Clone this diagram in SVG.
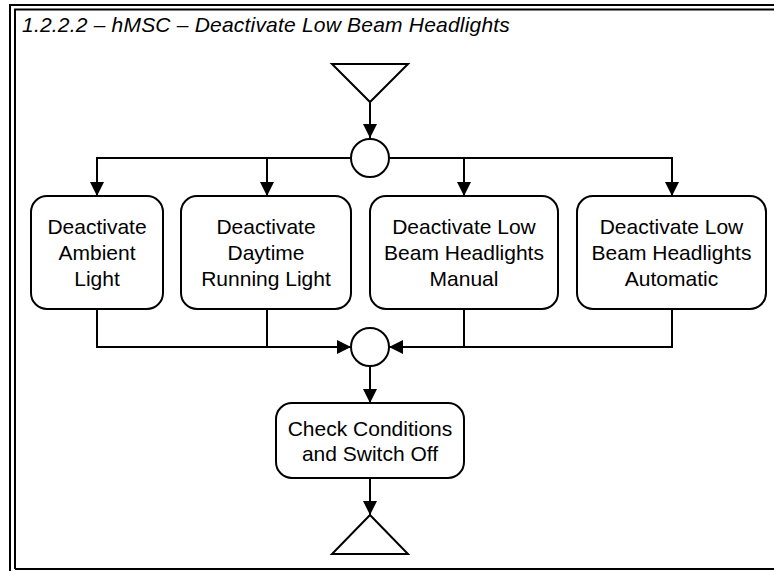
<svg xmlns="http://www.w3.org/2000/svg" width="774" height="571" viewBox="0 0 774 571">
<defs>
<marker id="arr" markerWidth="14" markerHeight="14" refX="14" refY="7" orient="auto" markerUnits="userSpaceOnUse">
<path d="M0,0 L14,7 L0,14 Z" fill="#000"/>
</marker>
</defs>
<style>
.frame{fill:none;stroke:#000;stroke-width:2}
.node{fill:#fff;stroke:#000;stroke-width:2}
.conn{fill:none;stroke:#000;stroke-width:2}
.lbl{font-family:"Liberation Sans",Arial,sans-serif;font-size:21px;fill:#000;text-anchor:middle}
.title{font-family:"Liberation Sans",Arial,sans-serif;font-size:21px;font-style:italic;fill:#000;letter-spacing:0.2px}
</style>
<rect width="774" height="571" fill="#fff"/>
<g id="frame">
<path class="frame" d="M10,571 V5 H774"/>
<path class="frame" d="M15,569 V9.5 H774"/>
<path class="frame" d="M15,569 H774"/>
<text class="title" x="22" y="32">1.2.2.2 – hMSC – Deactivate Low Beam Headlights</text>
</g>
<g id="connectors">
<path class="conn" d="M370,102 V138" marker-end="url(#arr)"/>
<path class="conn" d="M351,158 H97 V196" marker-end="url(#arr)"/>
<path class="conn" d="M267,158 V196" marker-end="url(#arr)"/>
<path class="conn" d="M389,158 H672 V196" marker-end="url(#arr)"/>
<path class="conn" d="M464,158 V196" marker-end="url(#arr)"/>
<path class="conn" d="M97,309 V347 H351" marker-end="url(#arr)"/>
<path class="conn" d="M267,309 V347"/>
<path class="conn" d="M672,309 V347 H389" marker-end="url(#arr)"/>
<path class="conn" d="M464,309 V347"/>
<path class="conn" d="M370,366 V403" marker-end="url(#arr)"/>
<path class="conn" d="M370,478 V515" marker-end="url(#arr)"/>
</g>
<g id="start">
<path class="node" d="M332,64 H408 L370,102 Z"/>
</g>
<g id="fork">
<circle class="node" cx="370" cy="158" r="19"/>
</g>
<g id="ambient">
<rect class="node" x="31" y="196" width="132" height="113" rx="16"/>
<text class="lbl" x="97" y="234">Deactivate</text>
<text class="lbl" x="97" y="260">Ambient</text>
<text class="lbl" x="97" y="286">Light</text>
</g>
<g id="daytime">
<rect class="node" x="181" y="196" width="170" height="113" rx="16"/>
<text class="lbl" x="266" y="234">Deactivate</text>
<text class="lbl" x="266" y="260">Daytime</text>
<text class="lbl" x="266" y="286">Running Light</text>
</g>
<g id="manual">
<rect class="node" x="370" y="196" width="188" height="113" rx="16"/>
<text class="lbl" x="464" y="234">Deactivate Low</text>
<text class="lbl" x="464" y="260">Beam Headlights</text>
<text class="lbl" x="464" y="286">Manual</text>
</g>
<g id="automatic">
<rect class="node" x="577" y="196" width="189" height="113" rx="16"/>
<text class="lbl" x="671.5" y="234">Deactivate Low</text>
<text class="lbl" x="671.5" y="260">Beam Headlights</text>
<text class="lbl" x="671.5" y="286">Automatic</text>
</g>
<g id="join">
<circle class="node" cx="370" cy="347" r="19"/>
</g>
<g id="check">
<rect class="node" x="276" y="403" width="188" height="75" rx="16"/>
<text class="lbl" x="370" y="436">Check Conditions</text>
<text class="lbl" x="370" y="461">and Switch Off</text>
</g>
<g id="end">
<path class="node" d="M370,515 L408,554 H332 Z"/>
</g>
</svg>
